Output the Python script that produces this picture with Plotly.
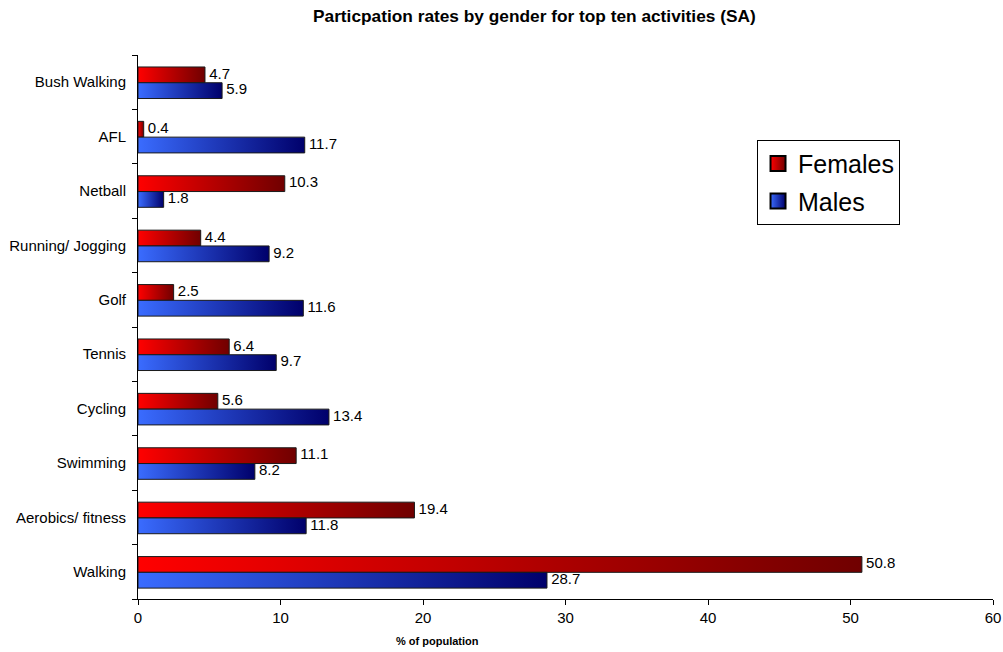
import plotly.graph_objects as go

activities = ["Walking", "Aerobics/ fitness", "Swimming", "Cycling", "Tennis",
              "Golf", "Running/ Jogging", "Netball", "AFL", "Bush Walking"]
females = [50.8, 19.4, 11.1, 5.6, 6.4, 2.5, 4.4, 10.3, 0.4, 4.7]
males = [28.7, 11.8, 8.2, 13.4, 9.7, 11.6, 9.2, 1.8, 11.7, 5.9]

series = [
    ("Females", females, "#ff0000", "#700000", 1),
    ("Males", males, "#3a6cff", "#00006b", -1),
]
BAR_H = 0.29
SHIFT = -0.01

fig = go.Figure()
for name, vals, c0, c1, side in series:
    for i, v in enumerate(vals):
        if side > 0:
            y0, y1 = i + SHIFT, i + SHIFT + BAR_H
        else:
            y0, y1 = i + SHIFT - BAR_H, i + SHIFT
        fig.add_trace(go.Scatter(
            x=[0, v, v, 0, 0], y=[y0, y0, y1, y1, y0],
            mode="lines", fill="toself",
            fillgradient=dict(type="horizontal", colorscale=[[0, c0], [1, c1]]),
            line=dict(color="#1a1a1a", width=1),
            showlegend=False, hoverinfo="skip"))
    fig.add_trace(go.Scatter(
        x=vals, y=[i + SHIFT + side * BAR_H / 2 for i in range(len(vals))],
        mode="text", text=[f" {v:.1f}" for v in vals],
        textposition="middle right",
        textfont=dict(family="Arial", size=15, color="black"),
        showlegend=False, hoverinfo="skip"))

for name, vals, c0, c1, side in series:
    fig.add_trace(go.Scatter(
        x=[None], y=[None], mode="markers", name=name, legendgroup=name,
        marker=dict(symbol="square", size=15, color=c0,
                    gradient=dict(type="horizontal", color=c1),
                    line=dict(color="black", width=2))))

fig.update_layout(
    width=1003, height=652,
    margin=dict(l=138, r=10, t=55, b=53, autoexpand=False),
    paper_bgcolor="white", plot_bgcolor="white",
    font=dict(family="Arial", size=15, color="black"),
    showlegend=True,
    legend=dict(x=0.724, y=0.844, xanchor="left", yanchor="top",
                bordercolor="black", borderwidth=1,
                font=dict(family="Arial", size=25),
                itemwidth=30, traceorder="grouped", tracegroupgap=2,
                bgcolor="white"),
)
fig.add_annotation(text="<b>Particpation rates by gender for top ten activities (SA)</b>",
                   x=(534 - 138) / 855, xref="paper", y=1 + (55 - 16) / 544, yref="paper",
                   yanchor="middle", showarrow=False,
                   font=dict(size=17.3, family="Arial"))
fig.add_annotation(text="<b>% of population</b>",
                   x=(437 - 138) / 855, xref="paper", y=0, yref="paper",
                   yanchor="top", yshift=-34, showarrow=False,
                   font=dict(size=11, family="Arial"))

fig.update_xaxes(range=[0, 60], dtick=10, tick0=0, showline=True, linecolor="black",
                 linewidth=1, ticks="outside", ticklen=5, tickcolor="black",
                 showgrid=False, zeroline=False, tickfont=dict(size=15),
                 automargin=False)
fig.update_yaxes(range=[-0.5, 9.5], tickmode="array", tickvals=list(range(len(activities))),
                 ticktext=activities, ticks="", showline=True, linecolor="black",
                 linewidth=1, showgrid=False, zeroline=False, ticklabelstandoff=8,
                 tickfont=dict(size=15), automargin=False,
                 minor=dict(tickmode="linear", tick0=-0.5, dtick=1, ticks="outside",
                            ticklen=5, tickcolor="black", showgrid=False))

fig.write_html("out.html")
